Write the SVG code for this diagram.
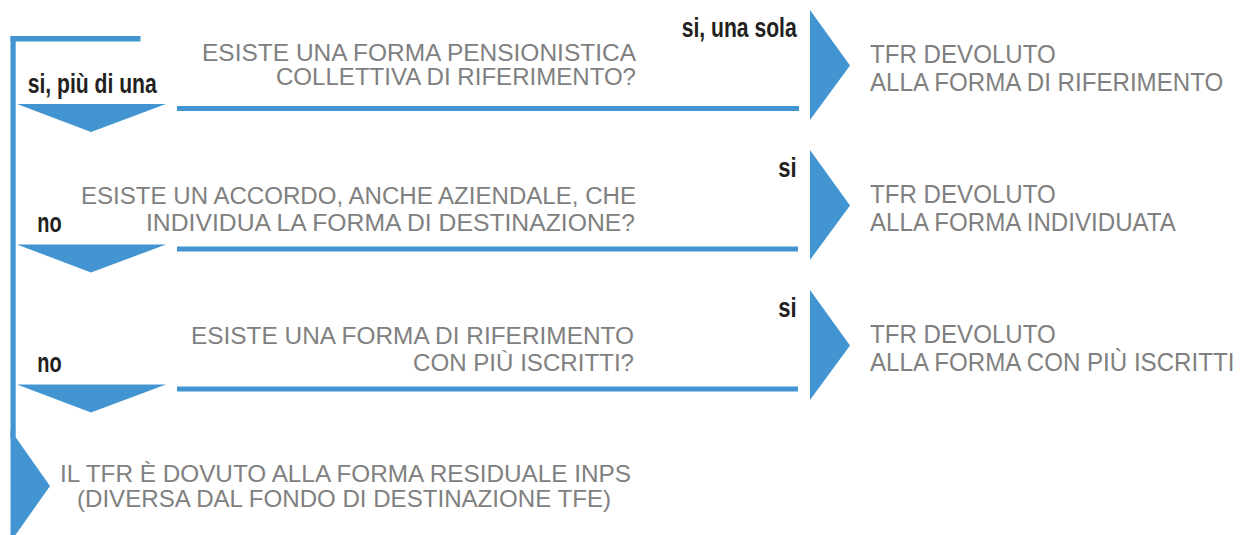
<svg xmlns="http://www.w3.org/2000/svg" width="1244" height="535" viewBox="0 0 1244 535">
  <style>
    .q { font-family: "Liberation Sans", Arial, sans-serif; font-size: 23.5px; fill: #808080; text-anchor: end; }
    .r { font-family: "Liberation Sans", Arial, sans-serif; font-size: 26.5px; fill: #808080; }
    .b { font-family: "Liberation Sans", Arial, sans-serif; font-size: 24px; fill: #808080; text-anchor: middle; }
    .lbl { font-family: "Liberation Sans", Arial, sans-serif; font-size: 27px; font-weight: bold; fill: #231f20; }
    .bar { fill: #4395d1; }
  </style>
  <rect width="1244" height="535" fill="#ffffff"/>

  <g id="connectors">
    <!-- main left spine -->
    <rect class="bar" x="10.5" y="36" width="130" height="5.5"/>
    <rect class="bar" x="10.5" y="36" width="5.2" height="402"/>
    <!-- horizontal flow lines -->
    <rect class="bar" x="177" y="106" width="622" height="5"/>
    <rect class="bar" x="177" y="246.5" width="621" height="5"/>
    <rect class="bar" x="177" y="386.5" width="621" height="5"/>
    <!-- down arrowheads -->
    <polygon class="bar" points="17,104 166,104 91,132"/>
    <polygon class="bar" points="17,244.5 166,244.5 91,272.5"/>
    <polygon class="bar" points="17,384.5 166,384.5 91,412.5"/>
    <!-- right arrowheads -->
    <polygon class="bar" points="810,10 850,65.5 810,120"/>
    <polygon class="bar" points="810,150 850,205.5 810,260"/>
    <polygon class="bar" points="810,290 850,345.5 810,400"/>
    <!-- bottom arrowhead -->
    <polygon class="bar" points="10.5,430 50,486 10.5,542"/>
    <!-- labels -->
    <text class="lbl" x="681.7" y="37.3" textLength="115" lengthAdjust="spacingAndGlyphs">si, una sola</text>
    <text class="lbl" x="27.7" y="93.3" textLength="129" lengthAdjust="spacingAndGlyphs">si, più di una</text>
    <text class="lbl" x="778.3" y="176.7" textLength="18.4" lengthAdjust="spacingAndGlyphs">si</text>
    <text class="lbl" x="37.3" y="231.7" textLength="24.4" lengthAdjust="spacingAndGlyphs">no</text>
    <text class="lbl" x="778.3" y="316.7" textLength="18.4" lengthAdjust="spacingAndGlyphs">si</text>
    <text class="lbl" x="37.3" y="371.7" textLength="24.4" lengthAdjust="spacingAndGlyphs">no</text>
  </g>

  <g id="q1">
    <text class="q" x="636" y="61" textLength="434" lengthAdjust="spacingAndGlyphs">ESISTE UNA FORMA PENSIONISTICA</text>
    <text class="q" x="636" y="85" textLength="360" lengthAdjust="spacingAndGlyphs">COLLETTIVA DI RIFERIMENTO?</text>
  </g>
  <g id="r1">
    <text class="r" transform="translate(870,63.3) scale(0.91,1)">TFR DEVOLUTO</text>
    <text class="r" transform="translate(870,91) scale(0.91,1)">ALLA FORMA DI RIFERIMENTO</text>
  </g>

  <g id="q2">
    <text class="q" x="636" y="204.3" textLength="555" lengthAdjust="spacingAndGlyphs">ESISTE UN ACCORDO, ANCHE AZIENDALE, CHE</text>
    <text class="q" x="635" y="230.5" textLength="489" lengthAdjust="spacingAndGlyphs">INDIVIDUA LA FORMA DI DESTINAZIONE?</text>
  </g>
  <g id="r2">
    <text class="r" transform="translate(870,203.3) scale(0.91,1)">TFR DEVOLUTO</text>
    <text class="r" transform="translate(870,231) scale(0.91,1)">ALLA FORMA INDIVIDUATA</text>
  </g>

  <g id="q3">
    <text class="q" x="634" y="344.3" textLength="443" lengthAdjust="spacingAndGlyphs">ESISTE UNA FORMA DI RIFERIMENTO</text>
    <text class="q" x="634" y="370.5" textLength="221" lengthAdjust="spacingAndGlyphs">CON PIÙ ISCRITTI?</text>
  </g>
  <g id="r3">
    <text class="r" transform="translate(870,343.3) scale(0.91,1)">TFR DEVOLUTO</text>
    <text class="r" transform="translate(870,371) scale(0.91,1)">ALLA FORMA CON PIÙ ISCRITTI</text>
  </g>

  <g id="end">
    <text class="b" x="345.5" y="481.7" textLength="571" lengthAdjust="spacingAndGlyphs">IL TFR È DOVUTO ALLA FORMA RESIDUALE INPS</text>
    <text class="b" x="344" y="506.5" textLength="534" lengthAdjust="spacingAndGlyphs">(DIVERSA DAL FONDO DI DESTINAZIONE TFE)</text>
  </g>
</svg>
